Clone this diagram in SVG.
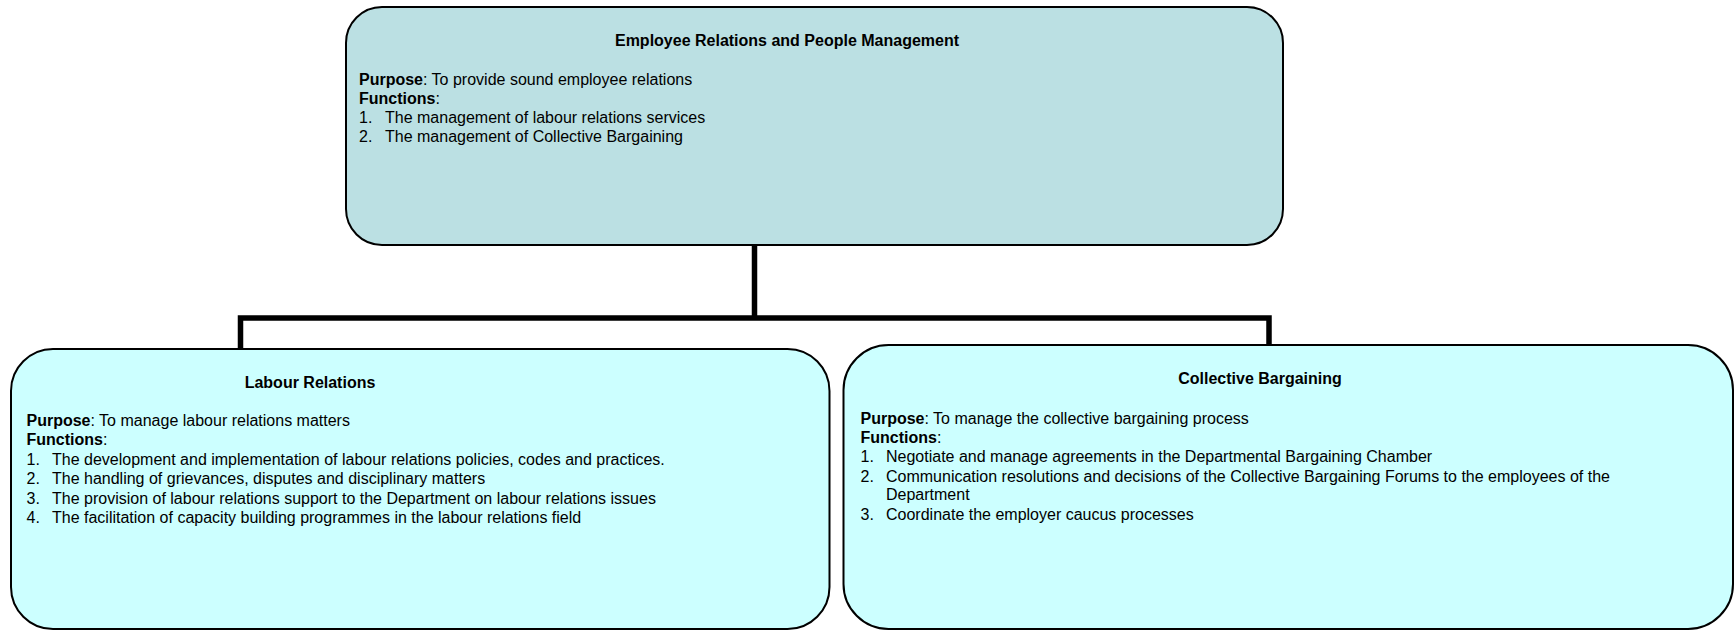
<svg xmlns="http://www.w3.org/2000/svg" width="1734" height="630" viewBox="0 0 1734 630">
<style>
  .box { stroke: #000; stroke-width: 2; }
  .top { fill: #BBE0E3; }
  .sub { fill: #CCFFFF; }
  text { font-family: "Liberation Sans", Arial, sans-serif; font-size: 16px; fill: #000; }
  .title { font-weight: bold; text-anchor: middle; }
  .b { font-weight: bold; }
  .conn { fill: none; stroke: #000; stroke-width: 5.5; stroke-linejoin: miter; }
</style>
<rect width="1734" height="630" fill="#fff"/>
<g id="connectors">
  <line class="conn" x1="754.5" y1="245" x2="754.5" y2="318"/>
  <polyline class="conn" points="240.5,349 240.5,318 1269,318 1269,345"/>
</g>
<g id="node-top">
  <rect class="box top" x="346" y="7" width="937" height="238" rx="36" ry="36"/>
  <text class="title" x="787" y="45.5">Employee Relations and People Management</text>
  <text x="359" y="85.3"><tspan class="b">Purpose</tspan>: To provide sound employee relations</text>
  <text x="359" y="104.1"><tspan class="b">Functions</tspan>:</text>
  <text x="359" y="122.9">1.</text><text x="385" y="122.9">The management of labour relations services</text>
  <text x="359" y="141.7">2.</text><text x="385" y="141.7">The management of Collective Bargaining</text>
</g>
<g id="node-labour">
  <rect class="box sub" x="11" y="349" width="818.5" height="280" rx="42" ry="42"/>
  <text class="title" x="310" y="388.4">Labour Relations</text>
  <text x="26.5" y="426"><tspan class="b">Purpose</tspan>: To manage labour relations matters</text>
  <text x="26.5" y="445.4"><tspan class="b">Functions</tspan>:</text>
  <text x="26.5" y="464.8">1.</text><text x="52" y="464.8">The development and implementation of labour relations policies, codes and practices.</text>
  <text x="26.5" y="484.2">2.</text><text x="52" y="484.2">The handling of grievances, disputes and disciplinary matters</text>
  <text x="26.5" y="503.6">3.</text><text x="52" y="503.6">The provision of labour relations support to the Department on labour relations issues</text>
  <text x="26.5" y="523">4.</text><text x="52" y="523">The facilitation of capacity building programmes in the labour relations field</text>
</g>
<g id="node-collective">
  <rect class="box sub" x="843.5" y="345" width="889.5" height="284" rx="45" ry="45"/>
  <text class="title" x="1260" y="384">Collective Bargaining</text>
  <text x="860.5" y="423.7"><tspan class="b">Purpose</tspan>: To manage the collective bargaining process</text>
  <text x="860.5" y="443"><tspan class="b">Functions</tspan>:</text>
  <text x="860.5" y="462.3">1.</text><text x="886" y="462.3">Negotiate and manage agreements in the Departmental Bargaining Chamber</text>
  <text x="860.5" y="481.6">2.</text><text x="886" y="481.6">Communication resolutions and decisions of the Collective Bargaining Forums to the employees of the</text>
  <text x="886" y="500.4">Department</text>
  <text x="860.5" y="520">3.</text><text x="886" y="520">Coordinate the employer caucus processes</text>
</g>
</svg>
